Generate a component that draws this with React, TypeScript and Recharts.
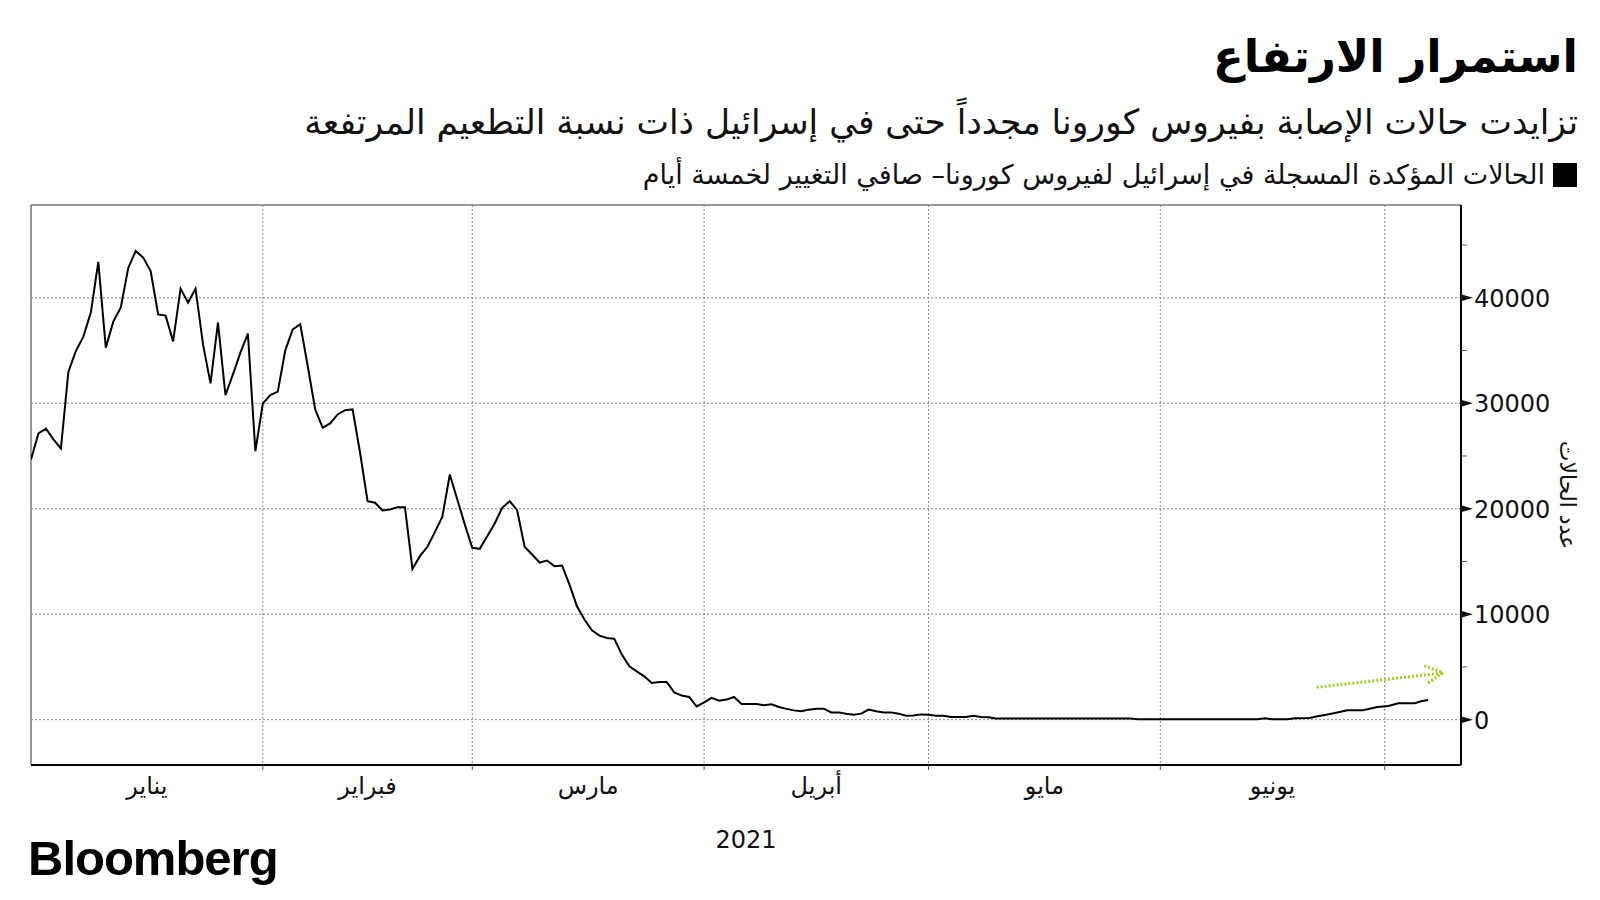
import { LineChart, Line, XAxis, YAxis, CartesianGrid, ReferenceLine } from 'recharts';

// day of 2021 (0 = 1 Jan) and five-day net change in confirmed cases
const days = [
  0, 1, 2, 3, 4, 5, 6, 7, 8, 9, 10, 11, 12, 13, 14, 15, 16, 17, 18, 19,
  20, 21, 22, 23, 24, 25, 26, 27, 28, 29, 30, 31, 32, 33, 34, 35, 36, 37, 38, 39,
  40, 41, 42, 43, 44, 45, 46, 47, 48, 49, 50, 51, 52, 53, 54, 55, 56, 57, 58, 59,
  60, 61, 62, 63, 64, 65, 66, 67, 68, 69, 70, 71, 72, 73, 74, 75, 76, 77, 78, 79,
  80, 81, 82, 83, 84, 85, 86, 87, 88, 89, 90, 91, 92, 93, 94, 95, 96, 97, 98, 99,
  100, 101, 102, 103, 104, 105, 106, 107, 108, 109, 110, 111, 112, 113, 114, 115, 116, 117, 118, 119,
  120, 121, 122, 123, 125, 126, 127, 128, 129, 147, 148, 164, 165, 166, 168, 169, 171, 172, 173, 174.5,
  176, 178, 179, 180, 181.5, 182.8, 185, 186, 186.8,
];
const cases = [
  24670, 27140, 27590, 26570, 25720, 33000, 34950, 36320, 38600, 43400, 35270, 37740, 39070, 42830, 44440, 43810, 42540, 38430, 38310, 35870,
  40870, 39540, 40870, 35590, 31890, 37650, 30780, 32740, 34800, 36600, 25460, 29990, 30780, 31100, 35020, 37010, 37490, 33530, 29420, 27680,
  28090, 28940, 29350, 29420, 25310, 20720, 20570, 19830, 19930, 20150, 20150, 14300, 15500, 16390, 17780, 19240, 23250, 20880, 18510, 16290,
  16200, 17400, 18600, 20090, 20720, 19860, 16390, 15660, 14900, 15090, 14550, 14620, 12810, 10750, 9490, 8480, 7970, 7750, 7660, 6170,
  5060, 4580, 4110, 3480, 3580, 3580, 2590, 2280, 2150, 1260, 1640, 2060, 1800, 1900, 2150, 1490, 1490, 1490, 1360, 1450,
  1200, 1020, 880, 790, 950, 1040, 1040, 690, 690, 570, 470, 570, 950, 790, 690, 690, 570, 380, 400, 500,
  470, 380, 380, 250, 250, 380, 250, 230, 120, 120, 30, 30, 130, 30, 30, 130, 160, 320, 450, 660,
  880, 880, 1040, 1200, 1300, 1550, 1550, 1770, 1870,
];

const monthStarts = [31, 59, 90, 120, 151, 181];
const monthMids = [15.5, 45, 74.5, 105, 135.5, 166];
const monthNames = ['يناير', 'فبراير', 'مارس', 'أبريل', 'مايو', 'يونيو'];
const yMajor = [0, 10000, 20000, 30000, 40000];
const yMinor = [5000, 15000, 25000, 35000, 45000];

// green trend arrow, in data units (day, cases)
const arrowShaft = [{ x: 171.9, y: 3065 }, { x: 188.8, y: 4430 }];
const arrowWingTop = [{ x: 186.3, y: 5120 }, { x: 188.8, y: 4430 }];
const arrowWingBottom = [{ x: 186.8, y: 3480 }, { x: 188.8, y: 4430 }];

const data = days.map((d, i) => ({ day: d, cases: cases[i] }));

const FONT = '"DejaVu Sans", sans-serif';

const XTick = (props: any) => {
  const { x, y, payload } = props;
  const idx = monthMids.indexOf(payload.value);
  if (idx >= 0) {
    return (
      <text x={x} y={y + 29} textAnchor="middle" fontSize={24} fontFamily={FONT} fill="#111">
        {monthNames[idx]}
      </text>
    );
  }
  return <line x1={x} x2={x} y1={y} y2={y + 5} stroke="#555" strokeWidth={1} />;
};

const YTick = (props: any) => {
  const { x, y, payload } = props;
  if (yMajor.includes(payload.value)) {
    return (
      <g>
        <polygon points={`${x},${y - 3.5} ${x + 12},${y} ${x},${y + 3.5}`} fill="#111" />
        <text x={x + 13} y={y + 9} fontSize={24} fontFamily={FONT} fill="#111">
          {payload.value}
        </text>
      </g>
    );
  }
  return <line x1={x} x2={x + 6} y1={y} y2={y} stroke="#555" strokeWidth={1} />;
};

export default function App() {
  return (
    <div style={{ position: 'absolute', left: 0, top: 0, width: 1600, height: 900, background: '#fff', overflow: 'hidden' }}>
      <div style={{ position: 'absolute', right: 22, top: 27, direction: 'rtl', fontFamily: FONT, fontWeight: 700, fontSize: 45, lineHeight: '60px', color: '#000', whiteSpace: 'nowrap' }}>
        استمرار الارتفاع
      </div>
      <div style={{ position: 'absolute', right: 22, top: 98, direction: 'rtl', fontFamily: FONT, fontSize: 34.5, lineHeight: '48px', color: '#111', whiteSpace: 'nowrap' }}>
        تزايدت حالات الإصابة بفيروس كورونا مجدداً حتى في إسرائيل ذات نسبة التطعيم المرتفعة
      </div>
      <div style={{ position: 'absolute', right: 23, top: 158, direction: 'rtl', display: 'flex', alignItems: 'center', gap: 8, fontFamily: FONT, fontSize: 27, lineHeight: '34px', color: '#111', whiteSpace: 'nowrap' }}>
        <span style={{ display: 'inline-block', width: 24, height: 24, background: '#000' }} />
        <span>الحالات المؤكدة المسجلة في إسرائيل لفيروس كورونا– صافي التغيير لخمسة أيام</span>
      </div>

      <div style={{ position: 'absolute', left: 0, top: 0 }}>
        <LineChart width={1600} height={900} data={data} margin={{ top: 205, right: 0, bottom: 95, left: 31 }}>
          <CartesianGrid
            stroke="#8a8a8a"
            strokeDasharray="2 2"
            horizontalValues={yMajor}
            verticalValues={monthStarts}
          />
          <XAxis
            type="number"
            dataKey="day"
            domain={[0, 191.2]}
            allowDataOverflow
            ticks={[...monthStarts, ...monthMids]}
            interval={0}
            tickSize={0}
            tickMargin={0}
            tick={<XTick />}
            axisLine={{ stroke: '#000', strokeWidth: 2 }}
            height={40}
          />
          <YAxis
            orientation="right"
            domain={[-4300, 48800]}
            allowDataOverflow
            ticks={[...yMajor, ...yMinor]}
            interval={0}
            tickSize={0}
            tickMargin={0}
            tick={<YTick />}
            axisLine={{ stroke: '#000', strokeWidth: 2 }}
            width={139}
          />
          <ReferenceLine y={48800} stroke="#777" strokeWidth={1.5} />
          <ReferenceLine x={0} stroke="#777" strokeWidth={1.5} />
          <Line
            type="linear"
            dataKey="cases"
            stroke="#000"
            strokeWidth={2}
            dot={false}
            isAnimationActive={false}
          />
          <ReferenceLine segment={arrowShaft} stroke="#9ccf1e" strokeWidth={3} strokeDasharray="2 2" ifOverflow="visible" />
          <ReferenceLine segment={arrowWingTop} stroke="#9ccf1e" strokeWidth={3} strokeDasharray="2 2" ifOverflow="visible" />
          <ReferenceLine segment={arrowWingBottom} stroke="#9ccf1e" strokeWidth={3} strokeDasharray="2 2" ifOverflow="visible" />
        </LineChart>
      </div>

      <div style={{ position: 'absolute', left: 1567, top: 495, transform: 'translate(-50%, -50%) rotate(90deg)', direction: 'rtl', fontFamily: FONT, fontSize: 22, color: '#111', whiteSpace: 'nowrap' }}>
        عدد الحالات
      </div>
      <div style={{ position: 'absolute', left: 746, top: 840, transform: 'translate(-50%, -50%)', fontFamily: FONT, fontSize: 24, color: '#111' }}>
        2021
      </div>
      <div style={{ position: 'absolute', left: 28, top: 830, fontFamily: '"Liberation Sans", Arial, sans-serif', fontWeight: 700, fontSize: 49, letterSpacing: -1, lineHeight: '56px', color: '#000' }}>
        Bloomberg
      </div>
    </div>
  );
}
